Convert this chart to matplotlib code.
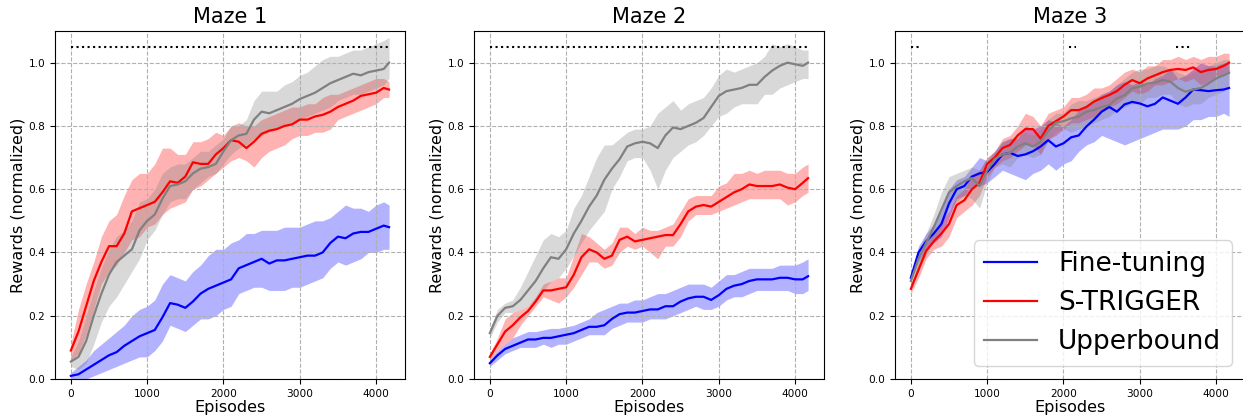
import matplotlib
matplotlib.use("Agg")
import matplotlib.pyplot as plt

episodes = [0, 100, 200, 300, 400, 500, 600, 700, 800, 900,
            1000, 1100, 1200, 1300, 1400, 1500, 1600, 1700, 1800, 1900,
            2000, 2100, 2200, 2300, 2400, 2500, 2600, 2700, 2800, 2900,
            3000, 3100, 3200, 3300, 3400, 3500, 3600, 3700, 3800, 3900,
            4000, 4100, 4170]

methods = ["Fine-tuning", "S-TRIGGER", "Upperbound"]
titles = ["Maze 1", "Maze 2", "Maze 3"]

# ---- Maze 1 ----
m1_ft = [0.01, 0.015, 0.03, 0.045, 0.06, 0.075, 0.085, 0.105, 0.12, 0.135,
         0.145, 0.155, 0.195, 0.24, 0.235, 0.225, 0.245, 0.27, 0.285, 0.295,
         0.305, 0.315, 0.35, 0.36, 0.37, 0.38, 0.365, 0.375, 0.375, 0.38,
         0.385, 0.39, 0.39, 0.40, 0.43, 0.45, 0.445, 0.46, 0.465, 0.465,
         0.475, 0.485, 0.48]
m1_ft_hi = [0.02, 0.04, 0.06, 0.09, 0.11, 0.13, 0.15, 0.17, 0.20, 0.22,
            0.23, 0.25, 0.30, 0.33, 0.32, 0.31, 0.34, 0.36, 0.39, 0.41,
            0.41, 0.43, 0.44, 0.46, 0.46, 0.47, 0.47, 0.47, 0.48, 0.48,
            0.48, 0.49, 0.50, 0.50, 0.51, 0.53, 0.55, 0.54, 0.54, 0.53,
            0.55, 0.56, 0.55]
m1_ft_lo = [0.0, 0.0, 0.0, 0.01, 0.02, 0.03, 0.04, 0.05, 0.06, 0.07,
            0.07, 0.09, 0.12, 0.17, 0.16, 0.15, 0.17, 0.19, 0.19, 0.20,
            0.22, 0.23, 0.27, 0.28, 0.29, 0.29, 0.28, 0.28, 0.28, 0.29,
            0.29, 0.30, 0.31, 0.32, 0.35, 0.37, 0.36, 0.37, 0.38, 0.40,
            0.40, 0.41, 0.41]
m1_st = [0.09, 0.15, 0.23, 0.31, 0.37, 0.42, 0.42, 0.46, 0.53, 0.54,
         0.55, 0.56, 0.59, 0.625, 0.62, 0.64, 0.685, 0.68, 0.68, 0.71,
         0.73, 0.755, 0.75, 0.73, 0.75, 0.775, 0.785, 0.79, 0.80, 0.805,
         0.82, 0.82, 0.83, 0.835, 0.845, 0.86, 0.87, 0.88, 0.895, 0.90,
         0.905, 0.92, 0.915]
m1_st_hi = [0.11, 0.22, 0.30, 0.37, 0.45, 0.50, 0.52, 0.58, 0.63, 0.65,
            0.65, 0.68, 0.73, 0.73, 0.71, 0.71, 0.75, 0.75, 0.76, 0.78,
            0.77, 0.80, 0.81, 0.80, 0.80, 0.82, 0.83, 0.84, 0.85, 0.86,
            0.86, 0.87, 0.87, 0.89, 0.90, 0.90, 0.91, 0.92, 0.93, 0.94,
            0.95, 0.95, 0.94]
m1_st_lo = [0.06, 0.08, 0.14, 0.22, 0.30, 0.34, 0.36, 0.40, 0.44, 0.45,
            0.48, 0.49, 0.52, 0.54, 0.55, 0.56, 0.60, 0.61, 0.63, 0.65,
            0.67, 0.69, 0.70, 0.69, 0.67, 0.70, 0.72, 0.73, 0.74, 0.76,
            0.77, 0.77, 0.78, 0.78, 0.79, 0.82, 0.83, 0.84, 0.85, 0.86,
            0.87, 0.89, 0.89]
m1_ub = [0.055, 0.07, 0.12, 0.20, 0.27, 0.33, 0.37, 0.39, 0.41, 0.47,
         0.50, 0.52, 0.57, 0.61, 0.615, 0.625, 0.65, 0.665, 0.67, 0.68,
         0.72, 0.755, 0.77, 0.775, 0.82, 0.845, 0.84, 0.85, 0.86, 0.87,
         0.885, 0.895, 0.905, 0.92, 0.935, 0.945, 0.955, 0.965, 0.96, 0.97,
         0.975, 0.98, 1.0]
m1_ub_hi = [0.07, 0.12, 0.20, 0.28, 0.35, 0.41, 0.45, 0.47, 0.50, 0.56,
            0.57, 0.60, 0.65, 0.67, 0.68, 0.68, 0.70, 0.72, 0.72, 0.74,
            0.76, 0.80, 0.80, 0.82, 0.88, 0.91, 0.91, 0.91, 0.93, 0.94,
            0.96, 0.97, 0.99, 1.01, 1.02, 1.02, 1.03, 1.04, 1.04, 1.05,
            1.06, 1.07, 1.08]
m1_ub_lo = [0.04, 0.03, 0.05, 0.11, 0.18, 0.23, 0.26, 0.30, 0.34, 0.38,
            0.44, 0.47, 0.52, 0.56, 0.57, 0.57, 0.60, 0.62, 0.64, 0.65,
            0.68, 0.71, 0.73, 0.74, 0.76, 0.77, 0.78, 0.79, 0.80, 0.81,
            0.82, 0.83, 0.84, 0.85, 0.86, 0.88, 0.89, 0.90, 0.90, 0.91,
            0.92, 0.93, 0.95]

# ---- Maze 2 ----
m2_ft = [0.05, 0.075, 0.095, 0.105, 0.115, 0.125, 0.125, 0.13, 0.13, 0.135,
         0.14, 0.145, 0.155, 0.165, 0.165, 0.17, 0.19, 0.205, 0.21, 0.21,
         0.215, 0.22, 0.22, 0.23, 0.23, 0.245, 0.255, 0.26, 0.26, 0.25,
         0.265, 0.285, 0.295, 0.30, 0.31, 0.315, 0.315, 0.315, 0.32, 0.32,
         0.315, 0.315, 0.325]
m2_ft_hi = [0.06, 0.09, 0.11, 0.13, 0.14, 0.15, 0.15, 0.155, 0.16, 0.16,
            0.165, 0.17, 0.18, 0.19, 0.21, 0.22, 0.23, 0.24, 0.24, 0.25,
            0.25, 0.26, 0.27, 0.27, 0.28, 0.29, 0.30, 0.30, 0.30, 0.29,
            0.31, 0.33, 0.33, 0.34, 0.35, 0.35, 0.35, 0.35, 0.36, 0.36,
            0.36, 0.37, 0.38]
m2_ft_lo = [0.04, 0.06, 0.08, 0.09, 0.10, 0.10, 0.10, 0.11, 0.10, 0.11,
            0.11, 0.12, 0.13, 0.14, 0.14, 0.14, 0.16, 0.17, 0.18, 0.18,
            0.18, 0.19, 0.19, 0.19, 0.20, 0.21, 0.22, 0.23, 0.22, 0.22,
            0.23, 0.25, 0.26, 0.26, 0.27, 0.28, 0.28, 0.28, 0.28, 0.28,
            0.27, 0.27, 0.28]
m2_st = [0.07, 0.11, 0.15, 0.17, 0.195, 0.215, 0.245, 0.28, 0.28, 0.285,
         0.29, 0.33, 0.385, 0.41, 0.40, 0.38, 0.39, 0.44, 0.45, 0.435,
         0.44, 0.445, 0.45, 0.455, 0.455, 0.49, 0.53, 0.545, 0.55, 0.545,
         0.56, 0.575, 0.59, 0.60, 0.615, 0.61, 0.61, 0.61, 0.615, 0.605,
         0.60, 0.62, 0.635]
m2_st_hi = [0.08, 0.13, 0.19, 0.21, 0.22, 0.23, 0.26, 0.30, 0.31, 0.32,
            0.32, 0.39, 0.46, 0.45, 0.43, 0.41, 0.43, 0.48, 0.48, 0.46,
            0.48, 0.47, 0.47, 0.48, 0.49, 0.53, 0.57, 0.58, 0.58, 0.58,
            0.61, 0.62, 0.65, 0.65, 0.66, 0.65, 0.66, 0.66, 0.66, 0.65,
            0.65, 0.67, 0.68]
m2_st_lo = [0.06, 0.09, 0.11, 0.13, 0.17, 0.20, 0.23, 0.26, 0.25, 0.24,
            0.26, 0.29, 0.33, 0.37, 0.37, 0.35, 0.36, 0.40, 0.42, 0.41,
            0.42, 0.40, 0.38, 0.42, 0.42, 0.45, 0.50, 0.52, 0.52, 0.52,
            0.53, 0.54, 0.55, 0.56, 0.57, 0.57, 0.57, 0.57, 0.57, 0.55,
            0.56, 0.58, 0.59]
m2_ub = [0.145, 0.20, 0.225, 0.23, 0.25, 0.28, 0.31, 0.35, 0.385, 0.38,
         0.41, 0.46, 0.50, 0.545, 0.58, 0.63, 0.665, 0.695, 0.735, 0.745,
         0.75, 0.745, 0.73, 0.77, 0.795, 0.79, 0.80, 0.81, 0.825, 0.86,
         0.895, 0.91, 0.915, 0.92, 0.93, 0.93, 0.955, 0.975, 0.99, 1.0,
         0.995, 0.99, 1.0]
m2_ub_hi = [0.16, 0.22, 0.24, 0.25, 0.29, 0.34, 0.39, 0.44, 0.46, 0.45,
            0.47, 0.54, 0.58, 0.64, 0.70, 0.74, 0.74, 0.76, 0.78, 0.79,
            0.79, 0.80, 0.84, 0.86, 0.88, 0.85, 0.87, 0.88, 0.89, 0.92,
            0.96, 0.98, 0.97, 0.98, 0.99, 1.00, 1.02, 1.06, 1.05, 1.06,
            1.05, 1.04, 1.04]
m2_ub_lo = [0.13, 0.18, 0.21, 0.21, 0.22, 0.23, 0.25, 0.28, 0.31, 0.32,
            0.35, 0.39, 0.43, 0.47, 0.50, 0.53, 0.60, 0.64, 0.69, 0.70,
            0.70, 0.66, 0.60, 0.66, 0.70, 0.72, 0.74, 0.75, 0.77, 0.80,
            0.83, 0.84, 0.86, 0.87, 0.87, 0.87, 0.90, 0.90, 0.92, 0.93,
            0.94, 0.95, 0.95]

# ---- Maze 3 ----
m3_ft = [0.32, 0.40, 0.435, 0.46, 0.49, 0.555, 0.60, 0.61, 0.64, 0.65,
         0.655, 0.68, 0.71, 0.715, 0.705, 0.71, 0.72, 0.735, 0.755, 0.735,
         0.745, 0.764, 0.77, 0.798, 0.82, 0.845, 0.86, 0.845, 0.868, 0.876,
         0.871, 0.862, 0.87, 0.89, 0.88, 0.87, 0.89, 0.915, 0.913, 0.91,
         0.913, 0.915, 0.92]
m3_ft_hi = [0.33, 0.42, 0.46, 0.49, 0.53, 0.60, 0.63, 0.64, 0.67, 0.70,
            0.69, 0.72, 0.75, 0.76, 0.76, 0.80, 0.79, 0.80, 0.82, 0.81,
            0.80, 0.82, 0.85, 0.86, 0.88, 0.90, 0.91, 0.93, 0.94, 0.93,
            0.94, 0.93, 0.95, 0.96, 0.98, 0.95, 0.96, 0.98, 1.0, 0.99,
            0.99, 1.0, 1.0]
m3_ft_lo = [0.31, 0.37, 0.41, 0.43, 0.45, 0.51, 0.57, 0.58, 0.61, 0.61,
            0.62, 0.64, 0.66, 0.65, 0.64, 0.63, 0.65, 0.66, 0.68, 0.66,
            0.68, 0.69, 0.72, 0.74, 0.75, 0.77, 0.76, 0.75, 0.74, 0.75,
            0.76, 0.77, 0.78, 0.79, 0.79, 0.79, 0.80, 0.82, 0.82, 0.83,
            0.83, 0.84, 0.83]
m3_st = [0.285, 0.345, 0.405, 0.435, 0.46, 0.49, 0.55, 0.565, 0.60, 0.62,
         0.68, 0.70, 0.73, 0.74, 0.77, 0.79, 0.79, 0.76, 0.80, 0.815,
         0.83, 0.85, 0.85, 0.86, 0.877, 0.888, 0.898, 0.91, 0.93, 0.945,
         0.935, 0.95, 0.96, 0.97, 0.977, 0.98, 0.977, 0.985, 0.97, 0.977,
         0.98, 0.99, 1.0]
m3_st_hi = [0.30, 0.37, 0.43, 0.46, 0.50, 0.53, 0.58, 0.60, 0.64, 0.66,
            0.70, 0.72, 0.76, 0.77, 0.80, 0.84, 0.83, 0.80, 0.84, 0.85,
            0.86, 0.89, 0.89, 0.90, 0.92, 0.92, 0.93, 0.95, 0.97, 0.98,
            0.97, 0.99, 0.99, 1.01, 1.01, 1.02, 1.01, 1.02, 1.01, 1.02,
            1.02, 1.03, 1.03]
m3_st_lo = [0.27, 0.32, 0.38, 0.41, 0.42, 0.45, 0.51, 0.53, 0.55, 0.58,
            0.64, 0.67, 0.69, 0.70, 0.72, 0.74, 0.74, 0.71, 0.76, 0.77,
            0.79, 0.81, 0.81, 0.82, 0.83, 0.85, 0.86, 0.87, 0.89, 0.91,
            0.90, 0.91, 0.93, 0.93, 0.94, 0.95, 0.94, 0.95, 0.93, 0.94,
            0.95, 0.96, 0.97]
m3_ub = [0.31, 0.38, 0.43, 0.48, 0.535, 0.59, 0.61, 0.625, 0.635, 0.61,
         0.66, 0.695, 0.71, 0.715, 0.735, 0.745, 0.735, 0.75, 0.785, 0.81,
         0.815, 0.824, 0.83, 0.845, 0.85, 0.86, 0.866, 0.887, 0.897, 0.919,
         0.924, 0.934, 0.937, 0.945, 0.94, 0.92, 0.908, 0.915, 0.92, 0.934,
         0.95, 0.96, 0.968]
m3_ub_hi = [0.32, 0.41, 0.46, 0.52, 0.59, 0.64, 0.65, 0.66, 0.67, 0.66,
            0.70, 0.72, 0.75, 0.76, 0.77, 0.78, 0.77, 0.79, 0.82, 0.84,
            0.84, 0.87, 0.88, 0.88, 0.89, 0.90, 0.91, 0.93, 0.95, 0.97,
            0.98, 0.98, 0.99, 0.99, 0.98, 0.97, 0.96, 0.97, 0.98, 0.99,
            1.0, 1.01, 1.01]
m3_ub_lo = [0.29, 0.35, 0.39, 0.44, 0.48, 0.54, 0.56, 0.58, 0.57, 0.54,
            0.62, 0.67, 0.68, 0.67, 0.70, 0.71, 0.70, 0.71, 0.75, 0.78,
            0.79, 0.78, 0.79, 0.80, 0.81, 0.82, 0.83, 0.85, 0.86, 0.87,
            0.87, 0.89, 0.89, 0.90, 0.90, 0.87, 0.86, 0.87, 0.87, 0.89,
            0.90, 0.91, 0.93]

# episode spans where the difference is significant (dotted marks on top)
m1_sig = [(0, 4170)]
m2_sig = [(0, 4170)]
m3_sig = [(0, 120), (2070, 2170), (3480, 3660)]

mazes = [
    (m1_ft, m1_ft_lo, m1_ft_hi, m1_st, m1_st_lo, m1_st_hi, m1_ub, m1_ub_lo, m1_ub_hi, m1_sig),
    (m2_ft, m2_ft_lo, m2_ft_hi, m2_st, m2_st_lo, m2_st_hi, m2_ub, m2_ub_lo, m2_ub_hi, m2_sig),
    (m3_ft, m3_ft_lo, m3_ft_hi, m3_st, m3_st_lo, m3_st_hi, m3_ub, m3_ub_lo, m3_ub_hi, m3_sig),
]
colors = ["blue", "red", "gray"]

fig = plt.figure(figsize=(12.43, 4.17), dpi=100)
lefts = [0.0442, 0.3813, 0.7200]

for k, maze in enumerate(mazes):
    ax = fig.add_axes([lefts[k], 0.0911, 0.2816, 0.8345])
    for i in range(3):
        mean, lo, hi = maze[3 * i], maze[3 * i + 1], maze[3 * i + 2]
        ax.fill_between(episodes, lo, hi, color=colors[i], alpha=0.3, linewidth=0)
        ax.plot(episodes, mean, color=colors[i], lw=1.6, label=methods[i])
    for a, b in maze[9]:
        ax.plot([a, b], [1.05, 1.05], color="black", ls=":", lw=1.5)
    ax.set_ylim(0, 1.1)
    ax.set_yticks([0.0, 0.2, 0.4, 0.6, 0.8, 1.0])
    ax.set_xticks([0, 1000, 2000, 3000, 4000])
    ax.grid(True, ls="--", color="#b0b0b0", lw=0.8)
    ax.tick_params(labelsize=7.6)
    ax.set_title(titles[k], fontsize=15)
    ax.set_xlabel("Episodes", fontsize=11.5, labelpad=1)
    ax.set_ylabel("Rewards (normalized)", fontsize=11.5, labelpad=2)
    if k == 2:
        ax.legend(loc="lower right", fontsize=19)

fig.savefig("out.png", dpi=100)
